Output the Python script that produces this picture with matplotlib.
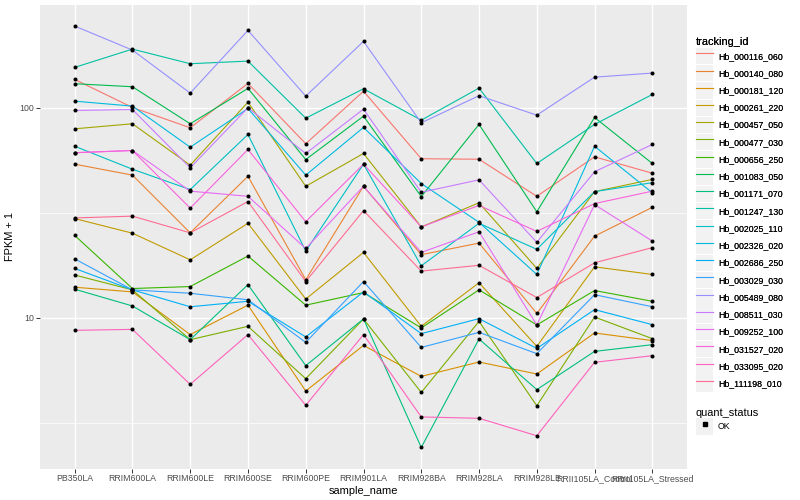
import numpy as np
import matplotlib
matplotlib.use("Agg")
import matplotlib.pyplot as plt
from matplotlib.lines import Line2D
from matplotlib.patches import Patch
from matplotlib.legend_handler import HandlerTuple

plt.rcParams['font.family'] = ['Liberation Sans', 'DejaVu Sans']

samples = ['PB350LA', 'RRIM600LA', 'RRIM600LE', 'RRIM600SE', 'RRIM600PE', 'RRIM901LA',
           'RRIM928BA', 'RRIM928LA', 'RRIM928LE', 'RRII105LA_Control', 'RRII105LA_Stressed']

tracking_ids = ['Hb_000116_060', 'Hb_000140_080', 'Hb_000181_120', 'Hb_000261_220',
                'Hb_000457_050', 'Hb_000477_030', 'Hb_000656_250', 'Hb_001083_050',
                'Hb_001171_070', 'Hb_001247_130', 'Hb_002025_110', 'Hb_002326_020',
                'Hb_002686_250', 'Hb_003029_030', 'Hb_005489_080', 'Hb_008511_030',
                'Hb_009252_100', 'Hb_031527_020', 'Hb_033095_020', 'Hb_111198_010']

# FPKM + 1, one list per tracking_id (same order as above)
fpkm = [
    [136.4, 100.3, 80.3, 130.5, 67.4, 119.9, 57.2, 56.9, 37.9, 58.4, 48.8],
    [53.9, 47.8, 25.4, 47.2, 15.2, 42.3, 20.0, 22.7, 10.5, 24.5, 33.6],
    [14.0, 13.3, 8.33, 11.5, 4.49, 7.40, 5.27, 6.17, 5.41, 8.48, 7.80],
    [29.7, 25.3, 18.9, 28.2, 12.3, 20.5, 9.12, 14.7, 7.32, 17.5, 16.1],
    [79.4, 83.9, 53.3, 106.3, 42.3, 60.6, 27.1, 35.3, 17.2, 39.9, 45.6],
    [16.0, 13.6, 7.88, 9.12, 5.14, 9.89, 4.42, 9.63, 3.82, 10.1, 7.97],
    [24.7, 13.8, 14.1, 19.7, 11.5, 13.2, 8.96, 13.6, 9.26, 13.5, 12.0],
    [130.1, 125.9, 83.9, 123.6, 56.7, 91.2, 37.8, 83.3, 32.0, 89.9, 54.3],
    [13.7, 11.4, 7.88, 14.4, 5.93, 9.89, 2.42, 7.94, 4.56, 6.93, 7.46],
    [155.6, 190.1, 162.0, 166.7, 89.2, 123.1, 87.3, 124.0, 54.3, 83.3, 115.7],
    [65.6, 51.0, 40.8, 74.6, 20.8, 53.9, 17.7, 28.2, 21.2, 39.9, 44.0],
    [107.5, 101.8, 64.9, 99.2, 47.8, 80.6, 43.6, 28.5, 16.1, 65.6, 39.4],
    [17.2, 13.6, 11.3, 12.0, 8.12, 13.3, 8.42, 9.92, 7.16, 10.95, 9.29],
    [19.1, 13.6, 13.1, 12.2, 7.65, 14.9, 7.24, 8.54, 6.76, 12.9, 11.3],
    [244.7, 188.1, 117.4, 233.4, 113.6, 206.9, 84.8, 114.1, 92.2, 139.8, 146.2],
    [97.1, 98.1, 51.8, 100.0, 60.6, 98.5, 39.6, 45.4, 22.9, 49.6, 66.9],
    [61.1, 62.6, 40.1, 37.9, 21.4, 42.3, 20.5, 25.7, 9.26, 34.6, 23.2],
    [61.1, 62.6, 33.3, 63.3, 28.7, 53.9, 27.1, 34.3, 25.8, 35.0, 40.1],
    [8.73, 8.82, 4.83, 8.33, 3.84, 8.33, 3.38, 3.33, 2.75, 6.15, 6.61],
    [29.9, 30.5, 25.4, 35.8, 14.9, 32.4, 16.7, 17.8, 12.5, 18.3, 21.6],
]

colors = ['#F8766D', '#EA8331', '#D89000', '#C09B00', '#A3A500', '#7CAE00', '#39B600',
          '#00BB4E', '#00BF7D', '#00C1A3', '#00BFC4', '#00BAE0', '#00B0F6', '#35A2FF',
          '#9590FF', '#C77CFF', '#E76BF3', '#FA62DB', '#FF62BC', '#FF6C91']

fig = plt.figure(figsize=(8, 5), dpi=100)
ax = fig.add_axes([40 / 800, 31.5 / 500, 647 / 800, 463.5 / 500])
ax.set_facecolor('#EBEBEB')

x = np.arange(len(samples))
for vals, c in zip(fpkm, colors):
    ax.plot(x, vals, color=c, lw=0.8, zorder=2)
for vals in fpkm:
    ax.plot(x, vals, 'o', color='black', ms=2.9, mew=0, zorder=3)

ax.set_yscale('log')
allv = np.log10(np.array(fpkm))
lo, hi = allv.min(), allv.max()
pad = (hi - lo) * 0.05
ax.set_ylim(10 ** (lo - pad), 10 ** (hi + pad))
ax.set_xlim(-0.6, len(samples) - 0.4)

ax.set_yticks([10, 100])
ax.set_yticklabels(['10', '100'])
ax.set_yticks([10 ** 0.5, 10 ** 1.5], minor=True)
ax.set_yticklabels([], minor=True)
ax.set_xticks(x)
ax.set_xticklabels(samples)

ax.grid(True, which='major', color='white', lw=1.0)
ax.grid(True, which='minor', axis='y', color='white', lw=0.5)
ax.set_axisbelow(True)
for s in ax.spines.values():
    s.set_visible(False)
ax.tick_params(which='major', length=2.7, width=0.7, color='#333333',
               labelsize=6.3, labelcolor='#4D4D4D', pad=1.5)
ax.tick_params(which='minor', length=0)

ax.set_xlabel('sample_name', fontsize=7.9, labelpad=2)
ax.set_ylabel('FPKM + 1', fontsize=7.9, labelpad=3)

# legends
leg_kw = dict(loc='upper left', frameon=False, fontsize=6.3, title_fontsize=7.9,
              handlelength=1.95, handleheight=2.5, labelspacing=0.1, handletextpad=0.55,
              borderpad=0, borderaxespad=0, alignment='left',
              handler_map={tuple: HandlerTuple(ndivide=1, pad=0)})

handles = [(Patch(facecolor='#F2F2F2', edgecolor='none'), Line2D([], [], color=c, lw=0.8))
           for c in colors]
leg1 = fig.legend(handles, tracking_ids, title='tracking_id',
                  bbox_to_anchor=(696 / 800, 1 - 37 / 500), **leg_kw)
fig.add_artist(leg1)

ok_handle = (Patch(facecolor='#F2F2F2', edgecolor='none'),
             Line2D([], [], ls='none', marker='s', color='black', ms=2.5))
fig.legend([ok_handle], ['OK'], title='quant_status',
           bbox_to_anchor=(696 / 800, 1 - 407.5 / 500), **leg_kw)

fig.savefig('out.png', dpi=100, facecolor='white')
